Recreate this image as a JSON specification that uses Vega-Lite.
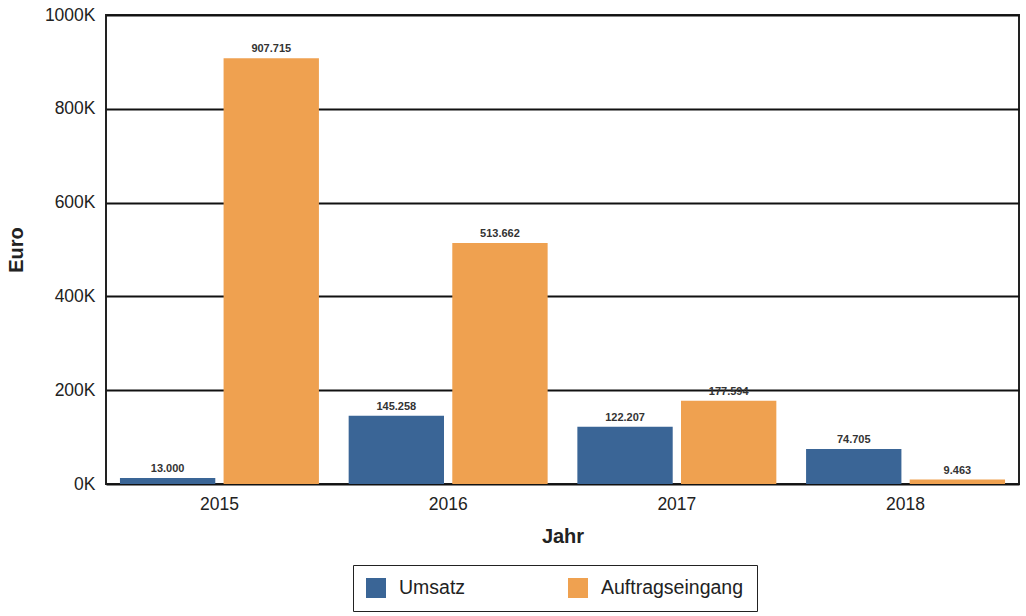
{
  "$schema": "https://vega.github.io/schema/vega-lite/v6.json",
  "width": 913,
  "height": 469,
  "autosize": "none",
  "padding": {"left": 106, "top": 15, "right": 7, "bottom": 132},
  "background": "white",
  "config": {
    "locale": {"number": {"decimal": ",", "thousands": ".", "grouping": [3], "currency": ["", " €"]}},
    "view": {"stroke": "#222222", "strokeWidth": 2},
    "font": "Liberation Sans",
    "axis": {"labelFont": "Liberation Sans", "titleFont": "Liberation Sans"}
  },
  "data": {
    "values": [
      {"Jahr": "2015", "Serie": "Umsatz", "Euro": 13000},
      {"Jahr": "2015", "Serie": "Auftragseingang", "Euro": 907715},
      {"Jahr": "2016", "Serie": "Umsatz", "Euro": 145258},
      {"Jahr": "2016", "Serie": "Auftragseingang", "Euro": 513662},
      {"Jahr": "2017", "Serie": "Umsatz", "Euro": 122207},
      {"Jahr": "2017", "Serie": "Auftragseingang", "Euro": 177594},
      {"Jahr": "2018", "Serie": "Umsatz", "Euro": 74705},
      {"Jahr": "2018", "Serie": "Auftragseingang", "Euro": 9463}
    ]
  },
  "encoding": {
    "x": {
      "field": "Jahr", "type": "nominal",
      "scale": {"paddingInner": 0.13, "paddingOuter": 0.061},
      "axis": {"labelAngle": 0, "ticks": false, "domain": false, "labelFontSize": 17.5, "labelColor": "#222", "labelPadding": 11, "title": "Jahr", "titleFontSize": 20, "titleFontWeight": "bold", "titleColor": "#222", "titlePadding": 14}
    },
    "xOffset": {"field": "Serie", "type": "nominal", "sort": ["Umsatz", "Auftragseingang"], "scale": {"paddingInner": 0.08, "paddingOuter": 0}},
    "y": {
      "field": "Euro", "type": "quantitative",
      "scale": {"domain": [0, 1000000], "nice": false},
      "axis": {"values": [0, 200000, 400000, 600000, 800000, 1000000], "labelExpr": "datum.value / 1000 + 'K'", "ticks": false, "domain": false, "gridColor": "#111", "gridWidth": 2, "gridOpacity": 1, "labelFontSize": 17.5, "labelColor": "#222", "labelPadding": 11, "title": "Euro", "titleFontSize": 20, "titleFontWeight": "bold", "titleColor": "#222", "titlePadding": 18}
    }
  },
  "layer": [
    {
      "mark": {"type": "bar"},
      "encoding": {
        "color": {
          "field": "Serie", "type": "nominal", "sort": ["Umsatz", "Auftragseingang"],
          "scale": {"domain": ["Umsatz", "Auftragseingang"], "range": ["#3a6596", "#efa150"]},
          "legend": {"title": null, "orient": "none", "legendX": 247, "legendY": 550, "direction": "horizontal", "columns": 2, "gridAlign": "all", "symbolType": "square", "symbolSize": 400, "symbolStrokeWidth": 0, "symbolOpacity": 1, "labelFontSize": 19.5, "labelColor": "#222", "labelOffset": 13, "columnPadding": 26, "strokeColor": "#222", "padding": 13, "cornerRadius": 0}
        }
      }
    },
    {
      "mark": {"type": "text", "dy": -9, "fontSize": 11, "fontWeight": "bold", "color": "#333"},
      "encoding": {
        "text": {"field": "Euro", "type": "quantitative", "format": ",.0f"}
      }
    }
  ]
}
